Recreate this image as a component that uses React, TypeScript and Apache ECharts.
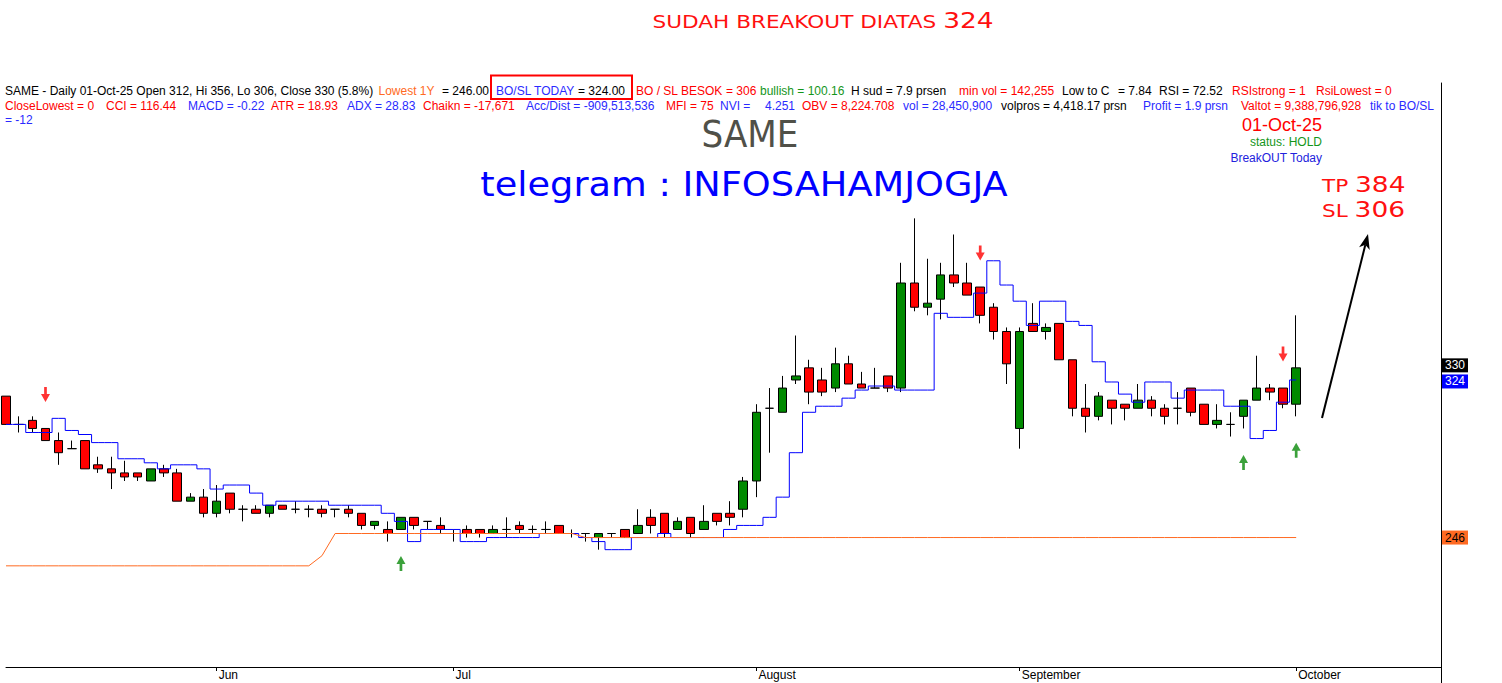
import React, { useEffect, useRef } from "react";
import * as echarts from "echarts";

// ---- trading days (2025) ----
const mayDays = [5, 6, 7, 8, 9, 14, 15, 16, 19, 20, 21, 22, 23, 26, 27, 28];
const junDays = [2, 3, 4, 5, 10, 11, 12, 13, 16, 17, 18, 19, 20, 23, 24, 25, 26, 30];
const julDays = [1, 2, 3, 4, 7, 8, 9, 10, 11, 14, 15, 16, 17, 18, 21, 22, 23, 24, 25, 28, 29, 30, 31];
const augDays = [1, 4, 5, 6, 7, 8, 11, 12, 13, 14, 15, 19, 20, 21, 22, 25, 26, 27, 28, 29];
const sepDays = [1, 2, 3, 4, 8, 9, 10, 11, 12, 15, 16, 17, 18, 19, 22, 23, 24, 25, 26, 29, 30];
const octDays = [1];
const futureOctDays = [2, 3, 6, 7, 8, 9, 10, 13, 14, 15, 16];
const monthLabels: Record<string, string> = { "06": "Jun", "07": "Jul", "08": "August", "09": "September", "10": "October" };

// ---- OHLC ----
const opens = [
  316, 302, 304, 300, 294, 290, 294, 282, 280, 278,
  278, 274, 280, 278, 264, 266, 258, 268, 260, 260,
  258, 262, 260, 260, 260, 260, 260, 258, 252, 250,
  250, 256, 254, 252, 248, 250, 250, 248, 250, 252,
  250, 250, 252, 248, 248, 246, 248, 250, 248, 256,
  258, 250, 256, 250, 258, 258, 260, 274, 310, 308,
  324, 330, 324, 320, 332, 322, 320, 326, 320, 372,
  360, 364, 376, 372, 370, 360, 348, 300, 352, 348,
  352, 334, 310, 306, 314, 312, 310, 314, 310, 310,
  320, 312, 302, 302, 306, 314, 320, 320, 312,
];
const highs = [
  316, 306, 306, 300, 298, 294, 294, 286, 286, 284,
  278, 280, 282, 280, 268, 270, 272, 268, 262, 262,
  262, 262, 264, 262, 262, 260, 262, 258, 254, 254,
  256, 256, 254, 256, 250, 252, 250, 252, 256, 254,
  252, 254, 252, 250, 248, 248, 248, 250, 260, 260,
  258, 256, 256, 262, 258, 264, 276, 312, 320, 326,
  346, 334, 330, 340, 336, 328, 330, 326, 382, 404,
  384, 382, 396, 382, 370, 362, 350, 350, 362, 352,
  352, 334, 322, 318, 314, 312, 322, 316, 312, 318,
  320, 312, 312, 308, 314, 336, 322, 320, 356,
];
const lows = [
  302, 298, 298, 294, 282, 290, 280, 278, 270, 274,
  274, 274, 276, 264, 264, 256, 256, 258, 254, 258,
  256, 260, 258, 256, 256, 256, 256, 250, 250, 244,
  250, 250, 250, 248, 244, 246, 246, 248, 246, 248,
  248, 248, 248, 246, 244, 240, 246, 246, 248, 248,
  246, 250, 246, 250, 252, 252, 256, 266, 288, 308,
  322, 312, 316, 318, 322, 320, 320, 318, 318, 358,
  356, 354, 370, 366, 352, 344, 322, 290, 348, 344,
  334, 306, 298, 304, 302, 304, 310, 306, 302, 302,
  306, 302, 300, 296, 300, 314, 314, 310, 306,
];
const closes = [
  302, 302, 300, 294, 288, 290, 280, 280, 278, 276,
  276, 280, 278, 264, 266, 258, 264, 260, 260, 258,
  262, 260, 260, 260, 258, 260, 258, 252, 254, 248,
  256, 252, 254, 250, 248, 248, 248, 250, 250, 250,
  250, 250, 248, 248, 248, 248, 248, 246, 252, 252,
  248, 254, 248, 254, 254, 256, 274, 308, 310, 320,
  326, 318, 318, 332, 322, 320, 320, 320, 372, 360,
  362, 376, 372, 366, 356, 348, 332, 348, 348, 350,
  334, 310, 306, 316, 310, 310, 314, 310, 306, 310,
  308, 302, 304, 302, 314, 320, 318, 312, 330,
];
// BO/SL stepped level
const boSl = [
  302, 302, 298, 298, 305, 299, 297, 293, 293, 285,
  285, 283, 280, 282, 282, 280, 270, 272, 272, 268,
  262, 264, 264, 264, 264, 262, 262, 262, 262, 258,
  254, 244, 250, 250, 250, 244, 244, 246, 246, 246,
  246, 248, 248, 248, 246, 244, 240, 240, 246, 246,
  248, 246, 246, 246, 246, 250, 252, 252, 256, 266,
  288, 308, 311, 311, 315, 319, 321, 321, 319, 319,
  319, 357, 355, 355, 367, 383, 371, 363, 351, 363,
  363, 353, 351, 333, 323, 317, 313, 323, 323, 315,
  319, 319, 319, 311, 311, 295, 299, 313, 324,
];
// Lowest 1Y
const lowest1Y = [
  232, 232, 232, 232, 232, 232, 232, 232, 232, 232,
  232, 232, 232, 232, 232, 232, 232, 232, 232, 232,
  232, 232, 232, 232, 237, 248, 248, 248, 248, 248,
  248, 248, 248, 248, 248, 248, 248, 248, 248, 248,
  248, 248, 248, 248, 246, 246, 246, 246, 246, 246,
  246, 246, 246, 246, 246, 246, 246, 246, 246, 246,
  246, 246, 246, 246, 246, 246, 246, 246, 246, 246,
  246, 246, 246, 246, 246, 246, 246, 246, 246, 246,
  246, 246, 246, 246, 246, 246, 246, 246, 246, 246,
  246, 246, 246, 246, 246, 246, 246, 246, 246,
];
const sellSignals = [3, 74, 97];
const buySignals = [30, 94, 98];
const tpValue = 384;
const slValue = 306;

const headerRow1 = [
  ["SAME - Daily 01-Oct-25 Open 312, Hi 356, Lo 306, Close 330 (5.8%)", "k"],
  ["Lowest 1Y", "o"], ["= 246.00", "k"], ["BO/SL TODAY", "b"], ["= 324.00", "k"],
  ["BO / SL BESOK", "r"], ["= 306", "r"], ["bullish = 100.16", "g"], ["H sud = 7.9 prsen", "k"],
  ["min vol = 142,255", "r"], ["Low to C", "k"], ["= 7.84", "k"], ["RSI = 72.52", "k"],
  ["RSIstrong = 1", "r"], ["RsiLowest = 0", "r"],
];
const headerRow2 = [
  ["CloseLowest = 0", "r"], ["CCI = 116.44", "r"], ["MACD = -0.22", "b"], ["ATR = 18.93", "r"],
  ["ADX = 28.83", "b"], ["Chaikn = -17,671", "r"], ["Acc/Dist = -909,513,536", "b"], ["MFI = 75", "r"],
  ["NVI =", "b"], ["4.251", "b"], ["OBV = 8,224.708", "r"], ["vol = 28,450,900", "b"],
  ["volpros = 4,418.17 prsn", "k"], ["Profit = 1.9 prsn", "b"], ["Valtot = 9,388,796,928", "r"],
  ["tik to BO/SL", "b"],
];
const headerRow3 = [["= -12", "b"]];

// layout (pixel x of each header segment)
const row1X = [5, 378.5, 442, 496, 578, 636, 726, 760, 851, 959, 1062, 1118, 1159, 1232, 1316];
const row2X = [5, 106, 188, 271, 347, 423, 526, 666, 720, 765, 802, 903, 1001, 1143, 1241, 1370];
const row3X = [5];

const COLORS: Record<string, string> = {
  k: "#000000", r: "#ff0000", b: "#2a2aff", g: "#14961a", o: "#ff6a22",
};

function pad(n: number) { return n < 10 ? "0" + n : "" + n; }

export default function App() {
  const ref = useRef<HTMLDivElement>(null);
  useEffect(() => {
    if (!ref.current) return;
    const chart = echarts.init(ref.current, null, { renderer: "svg" });

    const dates = [
      ...mayDays.map((d) => `2025-05-${pad(d)}`),
      ...junDays.map((d) => `2025-06-${pad(d)}`),
      ...julDays.map((d) => `2025-07-${pad(d)}`),
      ...augDays.map((d) => `2025-08-${pad(d)}`),
      ...sepDays.map((d) => `2025-09-${pad(d)}`),
      ...octDays.map((d) => `2025-10-${pad(d)}`),
    ];
    const n = dates.length;
    const allCats = [...dates, ...futureOctDays.map((d) => `2025-10-${pad(d)}`)];
    const monthStart = new Set<number>();
    for (let i = 1; i < n; i++) {
      if (dates[i].slice(5, 7) !== dates[i - 1].slice(5, 7)) monthStart.add(i);
    }
    const showIdx = (idx: number) => monthStart.has(idx);

    const candleData = opens.map((o, i) => [o, closes[i], lows[i], highs[i]]);
    const last = n - 1;

    const FONT = "'Liberation Sans', Arial, sans-serif";
    const txt = (text: string, x: number, y: number, fill: string, fontSize = 12, align = "left", family = FONT, extra: any = {}) => ({
      type: "text", x, y, silent: true, ...extra,
      style: { text, fill, fontSize, fontFamily: family, align, textAlign: align, verticalAlign: "middle", textVerticalAlign: "middle" },
    });

    const headerEls: any[] = [];
    headerRow1.forEach(([t, c], i) => headerEls.push(txt(t, row1X[i], 91, COLORS[c])));
    headerRow2.forEach(([t, c], i) => headerEls.push(txt(t, row2X[i], 105.5, COLORS[c])));
    headerRow3.forEach(([t, c], i) => headerEls.push(txt(t, row3X[i], 120, COLORS[c])));

    const copper = (text: string, x: number, y: number, align: string, small: number, big: number, sx: number) => {
      const parts = text.split(/(\d+)/).filter((p) => p.length);
      const rt = parts.map((p) => (/^\d+$/.test(p) ? `{b|${p}}` : `{a|${p}}`)).join("");
      return {
        type: "text", x, y, scaleX: sx, silent: true,
        style: {
          text: rt, align, textAlign: align, verticalAlign: "middle", textVerticalAlign: "middle",
          rich: {
            a: { fontSize: small, fontFamily: "'DejaVu Sans'", fill: "#ff1010", color: "#ff1010", verticalAlign: "bottom" },
            b: { fontSize: big, fontFamily: "'DejaVu Sans'", fill: "#ff1010", color: "#ff1010", verticalAlign: "bottom" },
          },
        },
      };
    };

    const markLabel = (bg: string, fg: string, dy: number) => ({
      show: true, position: "end", distance: 1, formatter: "{c}", color: fg, backgroundColor: bg,
      padding: [1, 3, 1, 3], fontSize: 12, lineHeight: 12, fontFamily: FONT, offset: [0, dy], opacity: 1,
    });
    const markLineBase = {
      silent: true, symbol: ["none", "none"],
      lineStyle: { color: "rgba(255,255,255,0)", width: 0, type: "solid" },
      emphasis: { disabled: true },
    };

    const option: any = {
      animation: false,
      backgroundColor: "#ffffff",
      grid: { left: 6, right: 61, top: 83, bottom: 0, containLabel: false },
      xAxis: {
        type: "category",
        data: allCats,
        boundaryGap: false,
        offset: -16,
        axisLine: { show: true, lineStyle: { color: "#000", width: 1 } },
        axisTick: { show: true, interval: (idx: number) => showIdx(idx), length: 4, lineStyle: { color: "#000" } },
        axisLabel: {
          show: true, interval: (idx: number) => showIdx(idx), hideOverlap: false,
          formatter: (v: string) => (v ? monthLabels[v.slice(5, 7)] || "" : ""),
          align: "left", margin: 2, padding: [0, 0, 0, 2], fontSize: 12, color: "#000", fontFamily: FONT,
        },
        splitLine: { show: false },
      },
      yAxis: {
        type: "value", position: "right", min: 174, max: 471, scale: true,
        axisLine: { show: true, lineStyle: { color: "#000", width: 1 } },
        axisTick: { show: false }, axisLabel: { show: false }, splitLine: { show: false },
      },
      series: [
        {
          type: "candlestick", name: "SAME", data: candleData, barWidth: 9, clip: false, z: 2,
          itemStyle: {
            color: "#008a00", color0: "#ff0000", borderColor: "#000", borderColor0: "#000",
            borderColorDoji: "#000", borderWidth: 1,
          },
          markLine: {
            ...markLineBase,
            label: markLabel("#000000", "#ffffff", -2.5),
            data: [{ yAxis: closes[last] }],
          },
        },
        {
          type: "line", name: "BO/SL", data: boSl, step: "middle", showSymbol: false, symbol: "none", clip: false, z: 3,
          lineStyle: { color: "#0000ff", width: 1 },
          markLine: {
            ...markLineBase,
            label: markLabel("#0000ff", "#ffffff", 1.5),
            data: [{ yAxis: boSl[last] }],
          },
        },
        {
          type: "line", name: "Lowest 1Y", data: lowest1Y, showSymbol: false, symbol: "none", clip: false, z: 3,
          lineStyle: { color: "#ff6a22", width: 1 },
          markLine: {
            ...markLineBase,
            label: markLabel("#ff6a22", "#000000", 0),
            data: [{ yAxis: lowest1Y[last] }],
          },
        },
        {
          type: "scatter", name: "sell", z: 4,
          data: sellSignals.map((i) => [i, highs[i]]),
          symbol: "path://M3.5,0 L6.5,0 L6.5,7 L10,7 L5,15 L0,7 L3.5,7 Z",
          symbolSize: [9, 15], symbolOffset: [0, -34], itemStyle: { color: "#ff0000" },
        },
        {
          type: "scatter", name: "buy", z: 4,
          data: buySignals.map((i) => [i, lows[i]]),
          symbol: "path://M5,0 L10,8 L6.5,8 L6.5,15 L3.5,15 L3.5,8 L0,8 Z",
          symbolSize: [9, 15], symbolOffset: [0, 34], itemStyle: { color: "#0a8a0a" },
        },
      ],
      graphic: {
        elements: [
          copper("SUDAH BREAKOUT DIATAS 324", 823, 20, "center", 18, 22, 1.2),
          ...headerEls,
          { type: "rect", silent: true, shape: { x: 491, y: 75.5, width: 141, height: 23.5 }, style: { fill: "none", stroke: "#ff0000", lineWidth: 2 } },
          txt("SAME", 750, 133.5, "#505048", 38, "center", "'DejaVu Sans'", { scaleX: 0.9 }),
          txt("telegram : INFOSAHAMJOGJA", 744, 184, "#0000ff", 34, "center", "'DejaVu Sans'", { scaleX: 1.08 }),
          txt("01-Oct-25", 1322, 125, "#ff0000", 18, "right"),
          txt("status: HOLD", 1322, 141.5, "#14961a", 12, "right"),
          txt("BreakOUT Today", 1322, 157.5, "#2222dd", 12, "right"),
          copper(`TP ${tpValue}`, 1322, 184, "left", 18, 22, 1.2),
          copper(`SL ${slValue}`, 1322, 209, "left", 18, 22, 1.2),
          { type: "line", silent: true, shape: { x1: 1322, y1: 418, x2: 1365.3, y2: 245 }, style: { stroke: "#000", lineWidth: 2 } },
          { type: "polygon", silent: true, shape: { points: [[1368, 234], [1369.7, 249.9], [1365.3, 244.7], [1359.1, 247.3]] }, style: { fill: "#000" } },
        ],
      },
    };
    chart.setOption(option);
    return () => chart.dispose();
  }, []);
  return (
    <div
      ref={ref}
      style={{ position: "fixed", left: 0, top: 0, width: 1502, height: 683, background: "#fff" }}
    />
  );
}
